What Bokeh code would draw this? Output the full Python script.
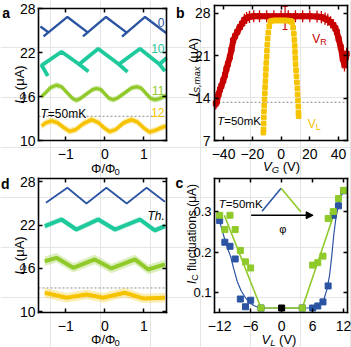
import numpy as np
from bokeh.plotting import figure
from bokeh.models import Range1d, FixedTicker, LinearAxis, Label, Arrow, NormalHead
from bokeh.embed import file_html
from bokeh.resources import INLINE

FONT = "Liberation Sans"
BLUE = "#2b54a3"
TEAL = "#1ec99b"
GREEN = "#8fc92a"
YELLOW = "#f5c300"
RED = "#c80000"
GRAY = "#8c8c8c"

# ---------------- panel a : I_S vs flux, measured ----------------
phi_a0 = [-1.65, -1.45, -1.57, -0.96, -0.44, -0.56, 0.03, 0.56, 0.44, 1.03, 1.58]
I_a0 = [25.55, 24.75, 24.2, 26.85, 24.75, 24.2, 26.85, 24.71, 24.16, 26.85, 24.63]
phi_a10 = [-1.46, -1.62, -1.11, -0.66, -0.42, -0.66, -0.17, 0.36, 0.58, 0.36, 0.90, 1.40, 1.54, 1.40, 1.58]
I_a10 = [18.8, 20.25, 22.1, 20.4, 19.4, 20.4, 22.5, 20.4, 19.35, 20.4, 22.5, 20.4, 19.45, 20.4, 21.25]
phi_a11 = [-1.62, -1.50, -1.40, -1.24, -1.10, -0.98, -0.83, -0.73, -0.62, -0.47, -0.31, -0.21, -0.10, 0.0,
           0.11, 0.21, 0.31, 0.51, 0.68, 0.81, 0.93, 1.05, 1.17, 1.28, 1.39, 1.50, 1.57]
I_a11 = [16.0, 16.6, 17.2, 17.55, 17.3, 16.6, 15.75, 15.47, 15.75, 16.35, 16.95, 17.1, 16.95, 16.35,
         15.75, 15.55, 15.75, 16.5, 17.15, 17.33, 17.15, 16.45, 15.75, 15.55, 15.7, 15.95, 16.1]
phi_a12 = [-1.62, -1.50, -1.37, -1.22, -1.05, -0.90, -0.74, -0.55, -0.34, -0.17, 0.0, 0.13, 0.28,
           0.48, 0.68, 0.84, 1.00, 1.15, 1.30, 1.45, 1.57]
I_a12 = [12.0, 12.45, 12.67, 12.45, 11.75, 11.25, 11.5, 12.3, 12.85, 12.45, 11.65, 11.2, 11.5,
         12.4, 12.85, 12.5, 11.7, 11.15, 11.4, 11.75, 11.95]

# ---------------- panel b : I_S,max vs gate voltage ----------------
VR_V = [-45.4, -44.7, -43.5, -42.5, -41.5, -40.2, -39.0, -38.0, -37.0, -35.6, -34.5, -33.3, -32.0,
        -30.5, -28.7, -27.0, -25.5, -24.0, -22.0, -19.0, -15.0, -10.0, -5.0, 0.0, 5.0, 10.0, 15.0,
        20.0, 25.0, 28.0, 30.6, 32.5, 34.5, 36.4, 37.8, 38.8, 40.0, 41.5, 42.9, 44.1, 45.0, 45.6]
VR_I = [13.1, 13.4, 14.6, 15.4, 16.0, 16.9, 17.8, 18.8, 19.6, 20.8, 22.0, 23.5, 24.2,
        24.9, 25.7, 26.3, 26.9, 27.2, 27.4, 27.5, 27.5, 27.5, 27.5, 27.5, 27.5, 27.5, 27.5,
        27.5, 27.45, 27.35, 27.1, 26.9, 26.5, 26.0, 25.5, 24.9, 23.8, 22.4, 20.5, 19.4, 20.8, 21.3]
VC_V = [2.8]
VC_I = [27.2]
VC_err = [1.9]
VL_V = [-12.3, -12.2, -12.1, -12.0, -11.9, -11.7, -11.5, -11.3, -11.1, -10.9, -10.7, -10.5, -10.3,
        -10.0, -9.8, -9.6, -9.3, -8.9, -8.3, -7.5,
        -6.5, -5.0, -3.5, -2.0, -0.5, 1.0, 2.5, 4.0, 5.5, 6.7,
        7.6, 8.4, 8.9, 9.2, 9.5, 9.7, 9.9, 10.1, 10.4, 10.7, 11.0, 11.3, 11.5, 11.8, 12.0, 12.1, 12.2]
VL_I = [8.3, 8.8, 9.8, 10.8, 11.8, 12.8, 13.8, 14.8, 15.8, 16.8, 17.8, 18.8, 19.8,
        20.8, 21.8, 22.8, 23.8, 24.8, 25.8, 26.6,
        26.75, 26.8, 26.8, 26.8, 26.8, 26.8, 26.8, 26.8, 26.75, 26.7,
        26.5, 25.6, 24.6, 23.6, 22.6, 21.6, 20.6, 19.6, 18.6, 17.6, 16.6, 15.6, 14.6, 13.6, 12.6, 11.6, 11.0]

# ---------------- panel d : theory and fits ----------------
phi_dth = [-1.51, -0.96, -0.47, 0.04, 0.56, 1.07, 1.54]
I_dth = [25.1, 27.18, 25.0, 27.18, 25.0, 27.18, 25.24]
phi_d10 = [-1.54, -1.11, -0.73, -0.17, 0.26, 0.90, 1.28, 1.54]
I_d10 = [21.86, 22.79, 21.4, 22.79, 21.4, 22.79, 21.27, 21.86]
phi_d11 = [-1.54, -1.24, -0.81, -0.26, 0.17, 0.77, 1.11, 1.54]
I_d11 = [17.0, 17.48, 16.1, 17.25, 16.0, 17.25, 15.86, 16.56]
phi_d12 = [-1.54, -0.98, -0.47, -0.04, 0.51, 0.98, 1.54]
I_d12 = [12.64, 11.94, 12.4, 11.94, 12.64, 11.85, 11.94]

# ---------------- panel c : I_C fluctuations vs V_L ----------------
VL_blue = [-12, -11, -10, -9, -8, -7, -6, -4, 4, 6, 7, 8, 9, 10, 11, 12]
F_blue = [0.277, 0.224, 0.214, 0.183, 0.085, 0.066, 0.082, 0.063, 0.063, 0.063, 0.068, 0.078,
          0.117, 0.290, 0.313, 0.350]
VL_green = [-12, -11, -10, -9, -8, -7, -6, -4, 4, 6, 7, 8, 9, 10, 11, 12]
F_green = [0.290, 0.255, 0.290, 0.255, 0.204, 0.176, 0.161, 0.063, 0.063, 0.168, 0.174, 0.190,
           0.282, 0.299, 0.331, 0.351]
VL_black = [0]
F_black = [0.063]
F_black_err = [0.006]
fit_blue_V = [-12, -11.4, -10.9, -10.4, -9.9, -9.3, -8.6, -7.8, -7.0, -6.2, -5.4, -4.6, -3.5, 0,
              5.0, 6.5, 7.5, 8.2, 8.8, 9.3, 9.7, 10.1, 10.5, 10.9, 11.4, 11.9]
fit_blue_F = [0.275, 0.248, 0.226, 0.207, 0.19, 0.16, 0.128, 0.104, 0.088, 0.076, 0.069, 0.065, 0.063,
              0.063, 0.063, 0.065, 0.072, 0.085, 0.11, 0.145, 0.19, 0.243, 0.283, 0.308, 0.33, 0.349]
fit_green_V = [-11.1, -4.0, 4.0, 11.8]
fit_green_F = [0.290, 0.063, 0.063, 0.355]
inset_blue_V = [-3.8, -0.1]
inset_blue_F = [0.300, 0.356]
inset_green_V = [-0.1, 3.7]
inset_green_F = [0.356, 0.2985]
inset_arrow_V = [-5.9, 6.1]
inset_arrow_F = [0.290, 0.290]

THRESH = 13.3

# axis limits and ticks
XLIM_A, YLIM_A = (-1.70, 1.58), (10, 28)
XLIM_B, YLIM_B = (-46.3, 46.2), (7, 29.27)
XLIM_D, YLIM_D = (-1.70, 1.58), (9.9, 28.47)
XLIM_C, YLIM_C = (-13.0, 12.75), (0.052, 0.380)
XT_PHI = [-1, 0, 1]
YT_I = [10, 16, 22, 28]
XT_B = [-40, -20, 0, 20, 40]
YT_B = [7, 14, 21, 28]
XT_C = [-12, -6, 0, 6, 12]
YT_C = [0.1, 0.2, 0.3]

# ---------------- canvas ----------------
W, H = 351, 347
BOX = {"a": (38, 8, 166, 140), "b": (214, 5, 347, 140),
       "d": (38, 178, 166, 312), "c": (214, 178, 347, 312)}
LIMS = {"a": (XLIM_A, YLIM_A), "b": (XLIM_B, YLIM_B), "d": (XLIM_D, YLIM_D), "c": (XLIM_C, YLIM_C)}

xr_extra, yr_extra = {}, {}
for k, (l, t, r, b) in BOX.items():
    xl, yl = LIMS[k]
    ux = (xl[1] - xl[0]) / (r - l)
    uy = (yl[1] - yl[0]) / (b - t)
    xr_extra[k + "x"] = Range1d(xl[0] - l * ux, xl[1] + (W - r) * ux)
    yr_extra[k + "y"] = Range1d(yl[0] - (H - b) * uy, yl[1] + t * uy)

p = figure(width=W, height=H, min_border=0, x_range=Range1d(0, W), y_range=Range1d(0, H),
           x_axis_location=None, y_axis_location=None,
           output_backend="svg", toolbar_location=None)
p.extra_x_ranges = xr_extra
p.extra_y_ranges = yr_extra
p.outline_line_color = None
p.background_fill_color = "white"
p.border_fill_color = "white"


def add_axes(k, xt, yt, xfont=14, yfont=14, ystand=3):
    xl, yl = LIMS[k]
    specs = [("below", yl[0], xl, xt, True, 8, xfont), ("above", yl[1], xl, xt, False, 0, xfont),
             ("left", xl[0], yl, yt, True, ystand, yfont), ("right", xl[1], yl, yt, False, 0, yfont)]
    for side, loc, bnds, ticks, show, stand, fs in specs:
        ax = LinearAxis(fixed_location=loc, bounds=bnds, ticker=FixedTicker(ticks=ticks),
                        x_range_name=k + "x", y_range_name=k + "y")
        ax.axis_line_color = "black"
        ax.axis_line_width = 1.6
        ax.axis_line_cap = "square"
        ax.major_tick_in = 4
        ax.major_tick_out = 0
        ax.major_tick_line_width = 1.5
        ax.major_tick_line_color = "black"
        ax.minor_tick_line_color = None
        ax.major_label_text_font = FONT
        ax.major_label_standoff = stand
        ax.major_label_text_color = "black"
        if show:
            ax.major_label_text_font_size = f"{fs}px"
        else:
            ax.major_label_text_font_size = "0px"
            ax.major_label_overrides = {tk: "" for tk in ticks}
            ax.major_label_text_color = None
        p.add_layout(ax, side)


def R(k):
    return dict(x_range_name=k + "x", y_range_name=k + "y")


CW = {'I': 0.278, 'S': 0.667, ' ': 0.278, '(': 0.333, ')': 0.333, 'μ': 0.576, 'A': 0.667,
      'Φ': 0.764, '/': 0.278, '0': 0.556, '1': 0.556, '2': 0.556, '5': 0.556, 'V': 0.667,
      'G': 0.778, 'L': 0.556, 'C': 0.722, ',': 0.278, 'm': 0.833, 'a': 0.556, 'x': 0.5,
      'f': 0.278, 'l': 0.222, 'u': 0.556, 'c': 0.5, 't': 0.278, 'i': 0.222, 'o': 0.556,
      'n': 0.556, 's': 0.5, 'R': 0.722, 'T': 0.611, '=': 0.584, 'K': 0.667, 'h': 0.556, '.': 0.278}


def tw(s, size):
    return sum(CW.get(c, 0.556) for c in s) * size


def put(X, Y, text, size, style="normal", color="black", angle=0.0, align="left"):
    p.add_layout(Label(x=X, y=H - Y, x_units="screen", y_units="screen", text=text,
                       text_font=FONT, text_font_size=f"{size}px", text_font_style=style,
                       text_color=color, angle=angle, text_align=align, text_baseline="alphabetic"))


def rich(X, Y, parts, color="black", vertical=False, center=True):
    total = sum(tw(t, s) for t, s, st, sh in parts)
    pos = (X - total / 2 if center else X) if not vertical else (Y + total / 2 if center else Y)
    for t, s, st, sh in parts:
        lead = len(t) - len(t.lstrip(" "))
        adv = tw(t[:lead], s)
        txt = t.strip(" ")
        if not vertical:
            put(pos + adv, Y + sh, txt, s, st, color)
            pos += tw(t, s)
        else:
            put(X + sh, pos - adv, txt, s, st, color, angle=np.pi / 2)
            pos -= tw(t, s)


# ---------------- panel a ----------------
add_axes("a", XT_PHI, YT_I)
p.line(list(XLIM_A), [THRESH, THRESH], line_color=GRAY, line_dash="2 2", line_width=1, **R("a"))
p.line(phi_a0, I_a0, color=BLUE, line_width=2.4, **R("a"))
p.line(phi_a10, I_a10, color=TEAL, line_width=3.8, **R("a"))
p.varea(x=phi_a11, y1=np.array(I_a11) - 0.4, y2=np.array(I_a11) + 0.4, fill_color=GREEN, fill_alpha=0.35, **R("a"))
p.line(phi_a11, I_a11, color=GREEN, line_width=3.2, **R("a"))
p.varea(x=phi_a12, y1=np.array(I_a12) - 0.45, y2=np.array(I_a12) + 0.45, fill_color=YELLOW, fill_alpha=0.35, **R("a"))
p.line(phi_a12, I_a12, color=YELLOW, line_width=3.4, **R("a"))
put(1.7, 12.8, "a", 14, "bold")
rich(18.5, 84, [("I", 13, "italic", 0), ("S", 9.5, "normal", 3), (" (μA)", 13, "normal", 0)], vertical=True)
rich(105, 168, [("Φ/Φ", 13, "normal", 0), ("0", 9.5, "normal", 3)])
rich(40, 113.5, [("T", 12, "italic", 0), ("=50mK", 12, "normal", 0)], center=False)
put(164, 21.5, "0", 12, color=BLUE, align="right")
put(164, 47.5, "10", 12, color=TEAL, align="right")
put(164, 90, "11", 12, color=GREEN, align="right")
put(164, 111.5, "12", 12, color=YELLOW, align="right")

# ---------------- panel b ----------------
add_axes("b", XT_B, YT_B, ystand=4)
p.line(list(XLIM_B), [THRESH, THRESH], line_color=GRAY, line_dash="2 2", line_width=1, **R("b"))
VR_I_arr = np.array(VR_I)
p.segment(x0=VR_V, y0=VR_I_arr - 1.0, x1=VR_V, y1=VR_I_arr + 1.0, color=RED, line_width=1.3, **R("b"))
p.line(VR_V, VR_I, color=RED, line_width=6, **R("b"))
p.scatter(VR_V, VR_I, marker="square", size=5, color=RED, **R("b"))
p.segment(x0=VC_V, y0=np.array(VC_I) - np.array(VC_err), x1=VC_V, y1=np.array(VC_I) + np.array(VC_err),
          color=RED, line_width=1.2, **R("b"))
p.scatter(VC_V, np.array(VC_I) - np.array(VC_err), marker="dash", size=5, color=RED, **R("b"))
p.scatter(VC_V, np.array(VC_I) + np.array(VC_err), marker="dash", size=5, color=RED, **R("b"))
p.scatter(VL_V, VL_I, marker="square", size=4.6, color=YELLOW, **R("b"))
put(175.5, 12.8, "b", 14, "bold")
rich(193, 67, [("I", 13, "italic", 0), ("S,max", 9.5, "italic", 3), (" (μA)", 13, "normal", 0)], vertical=True)
rich(281, 166, [("V", 13, "italic", 0), ("G", 9.5, "italic", 3), (" (V)", 13, "normal", 0)])
rich(216.7, 120, [("T", 11.5, "italic", 0), ("=50mK", 11.5, "normal", 0)], center=False)
rich(311.7, 38.5, [("V", 12, "normal", 0), ("R", 9, "normal", 3)], color=RED, center=False)
rich(307.3, 123.5, [("V", 12, "normal", 0), ("L", 9, "normal", 3)], color=YELLOW, center=False)

# ---------------- panel d ----------------
add_axes("d", XT_PHI, YT_I)
p.line(list(XLIM_D), [THRESH, THRESH], line_color=GRAY, line_dash="2 2", line_width=1, **R("d"))
p.line(phi_dth, I_dth, color=BLUE, line_width=1.8, **R("d"))
for xs, ys, col, err in [(phi_d10, I_d10, TEAL, 0.4), (phi_d11, I_d11, GREEN, 0.65), (phi_d12, I_d12, YELLOW, 0.65)]:
    p.varea(x=xs, y1=np.array(ys) - err, y2=np.array(ys) + err, fill_color=col, fill_alpha=0.3, **R("d"))
    p.line(xs, ys, color=col, line_width=4, **R("d"))
put(0.5, 183.5, "d", 14, "bold")
rich(18.5, 255, [("I", 13, "italic", 0), ("S", 9.5, "normal", 3), (" (μA)", 13, "normal", 0)], vertical=True)
rich(105, 339, [("Φ/Φ", 13, "normal", 0), ("0", 9.5, "normal", 3)])
put(164.3, 215.5, "Th.", 12, "italic", align="right")

# ---------------- panel c ----------------
add_axes("c", XT_C, YT_C, xfont=14, yfont=13)
p.line(fit_blue_V, fit_blue_F, color=BLUE, line_width=1.2, **R("c"))
p.line(fit_green_V, fit_green_F, color=GREEN, line_width=1.6, **R("c"))
p.scatter(VL_blue, F_blue, marker="square", size=6, color=BLUE, **R("c"))
p.scatter(VL_green, F_green, marker="square", size=6, color=GREEN, **R("c"))
p.segment(x0=VL_black, y0=np.array(F_black) - np.array(F_black_err), x1=VL_black,
          y1=np.array(F_black) + np.array(F_black_err), color="black", line_width=1, **R("c"))
p.scatter(VL_black, F_black, marker="square", size=6, color="black", **R("c"))
p.line(inset_blue_V, inset_blue_F, color=BLUE, line_width=1.6, **R("c"))
p.line(inset_green_V, inset_green_F, color=GREEN, line_width=1.6, **R("c"))
p.add_layout(Arrow(end=NormalHead(size=7, fill_color="black", line_color="black"),
                   x_start=inset_arrow_V[0], y_start=inset_arrow_F[0],
                   x_end=inset_arrow_V[1], y_end=inset_arrow_F[1], line_width=1.5, line_color="black",
                   **R("c")))
put(175, 182, "c", 14, "bold")
rich(191.5, 233.5, [("I", 12, "italic", 0), ("C", 9, "normal", 3), (" fluctuations (μA)", 12, "normal", 0)], vertical=True)
rich(278.5, 338.5, [("V", 13, "italic", 0), ("L", 9.5, "italic", 3), (" (V)", 13, "normal", 0)])
rich(218.3, 203.3, [("T", 11.5, "italic", 0), ("=50mK", 11.5, "normal", 0)], center=False)
put(282.3, 228.5, "φ", 11, align="center")

open("out.html", "w").write(file_html(p, INLINE))
